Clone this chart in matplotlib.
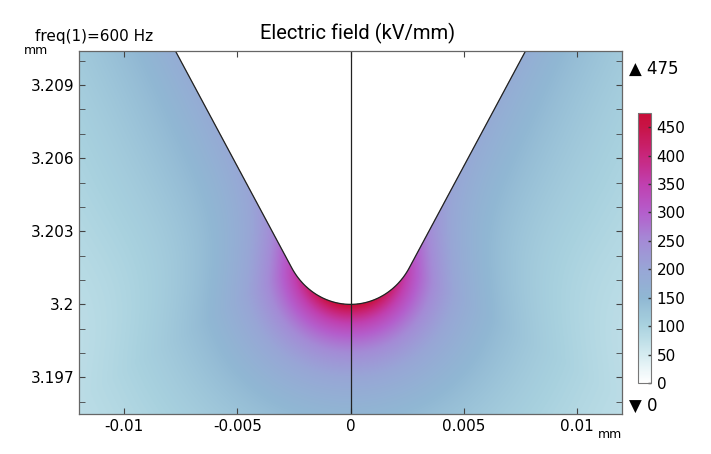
import numpy as np
import matplotlib
matplotlib.use("Agg")
import matplotlib.pyplot as plt
from matplotlib.colors import LinearSegmentedColormap

# axes (mm)
x_lim = [-0.012, 0.012]
y_lim = [3.1955, 3.2104]
x_ticks = [-0.01, -0.005, 0, 0.005, 0.01]
x_ticklabels = ["-0.01", "-0.005", "0", "0.005", "0.01"]
y_ticks = [3.197, 3.2, 3.203, 3.206, 3.209]
y_ticklabels = ["3.197", "3.2", "3.203", "3.206", "3.209"]
y_minor = [3.196, 3.198, 3.199, 3.201, 3.202, 3.204, 3.205, 3.207, 3.208, 3.210]

# colour scale (kV/mm)
e_min = 0
e_max = 475
cbar_ticks = [0, 50, 100, 150, 200, 250, 300, 350, 400, 450]
cmap_vals = [0, 50, 100, 150, 200, 250, 300, 350, 400, 450, 475]
cmap_cols = ["#ffffff", "#d4ebf0", "#a9d2df", "#90b7d3", "#98a6d6", "#a48bd6",
             "#b45ecc", "#c040b0", "#c8267c", "#c81448", "#c80c36"]

# electrode tip (rounded 60 deg V)
tip_y = 3.2
tip_r = 0.003
half_angle = np.radians(30)

# field
e_tip = 475       # at the apex surface
e_flank = 170     # far up the flanks
e_flank_add = 60
tip_spread = 0.0037
decay_tip = 0.0022
decay_flank = 0.007


def field(X, Y):
    u = np.abs(X)
    yc = tip_y + tip_r
    phi_t = np.pi / 2 - half_angle
    phi = np.arctan2(u, yc - Y)
    r = np.hypot(u, Y - yc)
    tx, ty = tip_r * np.sin(phi_t), yc - tip_r * np.cos(phi_t)
    dx, dy = np.cos(phi_t), np.sin(phi_t)
    nx, ny = np.sin(phi_t), -np.cos(phi_t)
    on_arc = phi <= phi_t
    t = np.where(on_arc, tip_r * phi,
                 tip_r * phi_t + (u - tx) * dx + (Y - ty) * dy)
    d = np.where(on_arc, r - tip_r, (u - tx) * nx + (Y - ty) * ny)
    base = e_flank + e_flank_add * np.exp(-t / 0.008)
    s = base + (e_tip - base) * np.exp(-(t / tip_spread) ** 2)
    L = decay_tip + (decay_flank - decay_tip) * (1 - np.exp(-(t / 0.006) ** 2))
    E = s * L / (L + np.maximum(d, 0))
    return np.ma.masked_where(d < 0, E)


xs = np.linspace(x_lim[0], x_lim[1], 1200)
ys = np.linspace(y_lim[0], y_lim[1], 800)
X, Y = np.meshgrid(xs, ys)
E = field(X, Y)

cmap = LinearSegmentedColormap.from_list(
    "efield", list(zip(np.array(cmap_vals) / e_max, cmap_cols)))

fig = plt.figure(figsize=(7.11, 4.54), dpi=100)
ax = fig.add_axes([79 / 711, 40 / 454, 543 / 711, 363 / 454])
ax.set_facecolor("white")
im = ax.imshow(E, extent=[x_lim[0], x_lim[1], y_lim[0], y_lim[1]], origin="lower",
               cmap=cmap, vmin=e_min, vmax=e_max, aspect="auto", interpolation="bilinear")

# outline of the tip
yc = tip_y + tip_r
phi_t = np.pi / 2 - half_angle
a = np.linspace(-phi_t, phi_t, 100)
bx = tip_r * np.sin(a)
by = yc - tip_r * np.cos(a)
top = y_lim[1] + 0.001
x_top = bx[-1] + (top - by[-1]) / np.tan(phi_t)
bx = np.concatenate([[-x_top], bx, [x_top]])
by = np.concatenate([[top], by, [top]])
ax.plot(bx, by, color="#222222", lw=0.9)
ax.axvline(0, color="#222222", lw=0.9)

ax.set_xlim(x_lim)
ax.set_ylim(y_lim)
ax.set_xticks(x_ticks)
ax.set_xticklabels(x_ticklabels, fontsize=11)
ax.set_yticks(y_ticks)
ax.set_yticklabels(y_ticklabels, fontsize=11)
ax.set_yticks(y_minor, minor=True)
ax.tick_params(which="both", direction="in", top=True, right=True, color="#444444")
ax.tick_params(which="major", length=4, width=0.8)
ax.tick_params(which="minor", length=4, width=0.6)
for sp in ax.spines.values():
    sp.set_color("#666666")
    sp.set_linewidth(0.9)

cax = fig.add_axes([638 / 711, 71 / 454, 13 / 711, 270 / 454])
cb = fig.colorbar(im, cax=cax, ticks=cbar_ticks)
cb.ax.tick_params(direction="in", length=2.5, width=1, color="#333333", labelsize=11, pad=4)
cb.outline.set_edgecolor("#777777")
cb.outline.set_linewidth(0.8)

fig.text(629 / 711, 1 - 69 / 454, "\u25b2 475", fontsize=12, ha="left", va="center")
fig.text(629 / 711, 1 - 406 / 454, "\u25bc 0", fontsize=12, ha="left", va="center")

fig.text(358 / 711, 1 - 33 / 454, "Electric field (kV/mm)", fontsize=14.5,
         family="Roboto", ha="center", va="center")
fig.text(35 / 711, 1 - 37 / 454, "freq(1)=600 Hz", fontsize=11, ha="left", va="center")
fig.text(24 / 711, 1 - 50 / 454, "mm", fontsize=9, ha="left", va="center")
fig.text(598 / 711, 1 - 434 / 454, "mm", fontsize=9, ha="left", va="center")

fig.savefig("out.png", dpi=100)
